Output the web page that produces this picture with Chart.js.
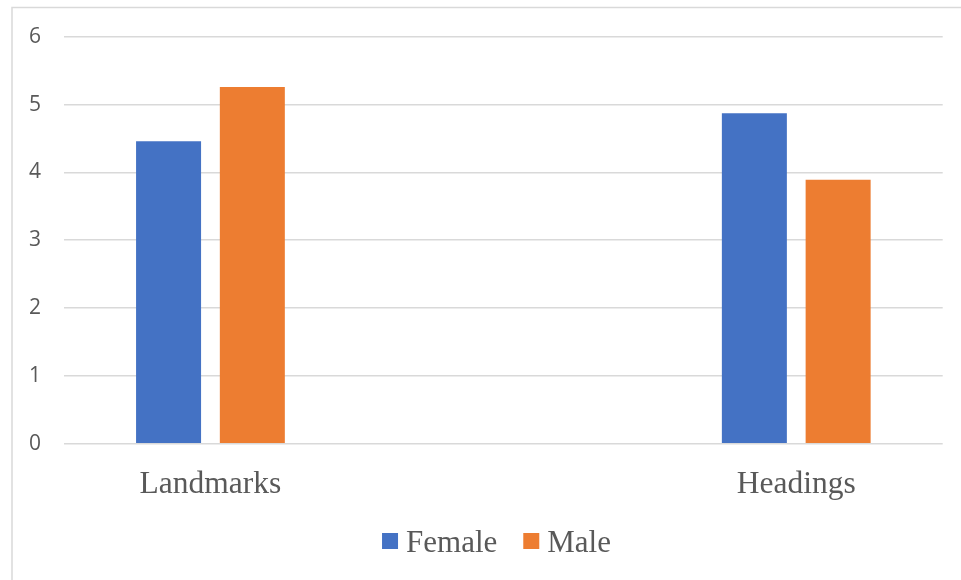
<!DOCTYPE html>
<html>
<head>
<meta charset="utf-8">
<script src="https://cdn.jsdelivr.net/npm/chart.js@4/dist/chart.umd.min.js"></script>
<style>
  html, body { margin: 0; padding: 0; background: #ffffff; }
  #wrap { position: relative; width: 961px; height: 580px; }
</style>
</head>
<body>
<div id="wrap"><canvas id="chart" width="961" height="580"></canvas></div>
<script>
// Category slots: the middle slot is left empty so the two groups sit apart
const categories = ['Landmarks', '', 'Headings'];
const seriesNames = ['Female', 'Male'];
const femaleValues = [4.46, null, 4.87];
const maleValues = [5.26, null, 3.89];
const yTickValues = [0, 1, 2, 3, 4, 5, 6];

const seriesColors = ['#4472C4', '#ED7D31'];
const textGrey = '#595959';
const gridGrey = '#d9d9d9';

// Thin frame around the chart (left and top edges visible)
const framePlugin = {
  id: 'frame',
  beforeDraw(chart) {
    const ctx = chart.ctx;
    ctx.save();
    ctx.strokeStyle = gridGrey;
    ctx.lineWidth = 1.5;
    ctx.beginPath();
    ctx.moveTo(12, chart.height + 2);
    ctx.lineTo(12, 7.5);
    ctx.lineTo(chart.width + 2, 7.5);
    ctx.stroke();
    ctx.restore();
  }
};

// Legend drawn below the axis: small square swatch followed by serif label
const legendPlugin = {
  id: 'customLegend',
  afterDraw(chart) {
    const ctx = chart.ctx;
    const font = '31px "Liberation Serif", "Times New Roman", serif';
    const box = 16, gapText = 8, gapItem = 26;
    ctx.save();
    ctx.font = font;
    const items = chart.data.datasets.map(ds => ({
      text: ds.label, color: ds.backgroundColor, w: ctx.measureText(ds.label).width
    }));
    let total = 0;
    items.forEach((it, i) => { total += box + gapText + it.w + (i ? gapItem : 0); });
    const centerX = 496.5;
    const baseline = 551.7;
    let x = centerX - total / 2;
    items.forEach(it => {
      ctx.fillStyle = it.color;
      ctx.fillRect(x, baseline - 18.7, box, box);
      x += box + gapText;
      ctx.fillStyle = textGrey;
      ctx.textBaseline = 'alphabetic';
      ctx.textAlign = 'left';
      ctx.fillText(it.text, x, baseline);
      x += it.w + gapItem;
    });
    ctx.restore();
  }
};

new Chart(document.getElementById('chart'), {
  type: 'bar',
  data: {
    labels: categories,
    datasets: [
      { label: seriesNames[0], data: femaleValues, backgroundColor: seriesColors[0] },
      { label: seriesNames[1], data: maleValues, backgroundColor: seriesColors[1] }
    ]
  },
  options: {
    responsive: false,
    animation: false,
    categoryPercentage: 0.572,
    barPercentage: 0.776,
    layout: { padding: { left: 0, top: 36.7, right: 18.3, bottom: 76.3 } },
    plugins: {
      legend: { display: false },
      tooltip: { enabled: false }
    },
    scales: {
      x: {
        grid: { display: false, drawTicks: false },
        border: { display: false },
        ticks: {
          color: textGrey,
          padding: 22,
          font: { family: '"Liberation Serif", "Times New Roman", serif', size: 31.5 }
        },
        afterFit(scale) { scale.height = 60; }
      },
      y: {
        min: 0,
        max: 6,
        afterBuildTicks(scale) { scale.ticks = yTickValues.map(v => ({ value: v })); },
        grid: { color: gridGrey, lineWidth: 1.5, drawTicks: false },
        border: { display: false },
        ticks: {
          color: textGrey,
          padding: 23,
          font: { family: '"Open Sans", sans-serif', size: 21 }
        },
        afterFit(scale) { scale.width = 64; }
      }
    }
  },
  plugins: [framePlugin, legendPlugin]
});
</script>
</body>
</html>
